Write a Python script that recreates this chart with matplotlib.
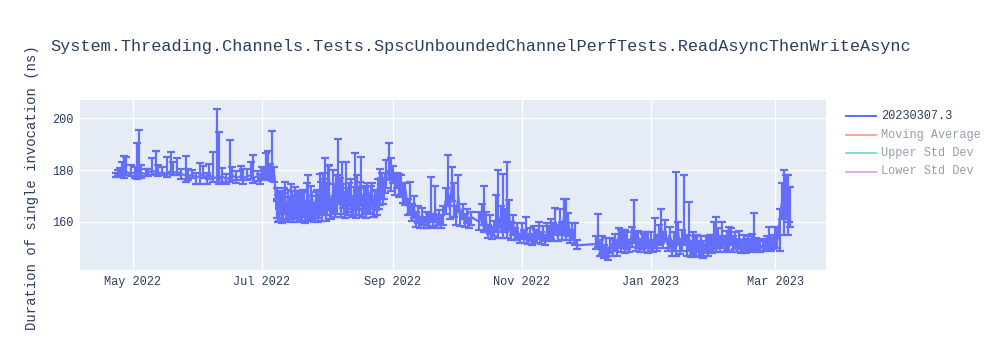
import matplotlib
matplotlib.use("Agg")
import matplotlib.pyplot as plt
from matplotlib.lines import Line2D
import pandas as pd

plt.rcParams['font.family'] = ['Liberation Mono', 'DejaVu Sans']

TITLE = "System.Threading.Channels.Tests.SpscUnboundedChannelPerfTests.ReadAsyncThenWriteAsync"
Y_LABEL = "Duration of single invocation (ns)"
LEGEND_LABELS = ["20230307.3", "Moving Average", "Upper Std Dev", "Lower Std Dev"]
Y_TICKS = [160, 180, 200]
X_TICKS = ["2022-05-01", "2022-07-01", "2022-09-01", "2022-11-01", "2023-01-01", "2023-03-01"]
X_TICK_LABELS = ["May 2022", "Jul 2022", "Sep 2022", "Nov 2022", "Jan 2023", "Mar 2023"]

# ---- Period A: Apr 23 - Jul 7 2022 ----
dates_a = ["2022-04-23", "2022-04-24", "2022-04-25", "2022-04-26", "2022-04-27", "2022-04-28",
           "2022-04-30", "2022-05-02", "2022-05-03", "2022-05-04", "2022-05-05", "2022-05-07",
           "2022-05-08", "2022-05-10", "2022-05-12", "2022-05-13", "2022-05-15", "2022-05-17",
           "2022-05-19", "2022-05-20", "2022-05-22", "2022-05-24", "2022-05-26", "2022-05-27",
           "2022-05-29", "2022-05-31", "2022-06-02", "2022-06-03", "2022-06-05", "2022-06-06",
           "2022-06-08", "2022-06-10", "2022-06-11", "2022-06-12", "2022-06-14", "2022-06-16",
           "2022-06-17", "2022-06-19", "2022-06-21", "2022-06-22", "2022-06-24", "2022-06-26",
           "2022-06-27", "2022-06-29", "2022-06-30", "2022-07-01", "2022-07-02", "2022-07-03",
           "2022-07-04", "2022-07-05", "2022-07-06", "2022-07-07"]
values_a = [178.0, 178.5, 178.2, 179.0, 178.6, 179.2,
            178.8, 179.0, 178.5, 179.5, 178.8, 178.6,
            179.0, 179.6, 179.4, 178.8, 179.2, 178.5,
            179.8, 179.0, 179.3, 178.4, 178.0, 177.6,
            178.2, 177.2, 177.8, 178.5, 177.0, 178.4,
            176.8, 177.4, 176.5, 177.8, 176.6, 177.2,
            178.0, 177.0, 177.6, 176.8, 177.5, 178.2,
            177.0, 177.6, 176.5, 178.0, 178.6, 177.5,
            179.0, 178.2, 177.6, 178.0]
err_up_a = [1.0, 1.5, 2.5, 4.0, 7.0, 6.0,
            3.0, 2.0, 12.0, 16.0, 3.0, 2.0,
            1.5, 5.0, 8.0, 3.0, 2.0, 6.5,
            7.0, 4.0, 5.5, 2.0, 7.5, 3.0,
            2.0, 1.5, 5.0, 3.0, 2.0, 4.0,
            10.0, 26.0, 18.0, 3.0, 2.0, 14.5,
            3.0, 2.5, 4.0, 3.5, 3.0, 5.0,
            9.0, 2.0, 1.8, 3.0, 2.0, 9.0,
            8.5, 4.0, 17.5, 3.0]
err_dn_a = [0.8, 0.8, 1.0, 1.2, 1.5, 1.2,
            1.0, 2.0, 2.0, 2.5, 2.0, 1.0,
            1.2, 1.5, 1.0, 1.2, 1.0, 1.3,
            1.5, 1.0, 1.2, 2.0, 2.5, 1.5,
            1.2, 2.5, 3.0, 1.5, 2.5, 2.0,
            1.5, 2.0, 2.0, 2.5, 2.0, 1.8,
            2.0, 1.8, 1.5, 2.0, 1.5, 1.5,
            2.0, 2.0, 2.0, 1.5, 1.5, 1.5,
            2.0, 1.8, 2.0, 2.5]

# ---- Period B: Jul 8 - Aug 4 2022 (morning runs) ----
dates_b = ["2022-07-08", "2022-07-08 06:00", "2022-07-09", "2022-07-10", "2022-07-11", "2022-07-12",
           "2022-07-13", "2022-07-14", "2022-07-15", "2022-07-16", "2022-07-17", "2022-07-18",
           "2022-07-19", "2022-07-20", "2022-07-21", "2022-07-22", "2022-07-23", "2022-07-24",
           "2022-07-25", "2022-07-26", "2022-07-27", "2022-07-28", "2022-07-29", "2022-07-30",
           "2022-07-31", "2022-08-01", "2022-08-02", "2022-08-03", "2022-08-04"]
values_b = [165.0, 170.0, 162.0, 168.0, 163.5, 170.5,
            162.0, 166.5, 171.0, 161.5, 167.0, 164.0,
            169.5, 162.5, 168.5, 165.0, 170.5, 163.0,
            167.5, 161.8, 169.0, 164.5, 171.5, 166.0,
            172.0, 165.0, 170.5, 163.0, 168.5]
err_up_b = [4.0, 3.0, 3.0, 4.0, 7.5, 5.0,
            4.0, 3.0, 3.5, 2.5, 5.0, 7.5,
            2.5, 4.0, 3.0, 3.0, 7.5, 4.0,
            2.5, 5.0, 3.5, 6.0, 4.0, 13.0,
            12.5, 10.0, 11.5, 6.0, 6.0]
err_dn_b = [3.5, 2.0, 1.5, 5.0, 2.5, 4.0,
            1.8, 5.0, 3.0, 1.5, 5.5, 3.0,
            4.0, 2.0, 6.0, 3.0, 3.5, 2.0,
            4.0, 1.5, 5.5, 3.0, 4.0, 3.5,
            5.0, 2.5, 4.0, 2.0, 3.5]

# ---- Period B2: Jul 8 - Aug 4 2022 (afternoon runs) ----
dates_b2 = ["2022-07-08 12:00", "2022-07-09 12:00", "2022-07-10 12:00", "2022-07-11 12:00",
            "2022-07-12 12:00", "2022-07-13 12:00", "2022-07-14 12:00", "2022-07-15 12:00",
            "2022-07-16 12:00", "2022-07-17 12:00", "2022-07-18 12:00", "2022-07-19 12:00",
            "2022-07-20 12:00", "2022-07-21 12:00", "2022-07-22 12:00", "2022-07-23 12:00",
            "2022-07-24 12:00", "2022-07-25 12:00", "2022-07-26 12:00", "2022-07-27 12:00",
            "2022-07-28 12:00", "2022-07-29 12:00", "2022-07-30 12:00", "2022-07-31 12:00",
            "2022-08-01 12:00", "2022-08-02 12:00", "2022-08-03 12:00", "2022-08-04 12:00"]
values_b2 = [161.5, 169.0, 161.0, 171.0, 163.0, 170.0, 161.5, 164.0,
             170.5, 161.0, 168.0, 162.0, 170.0, 160.8, 169.0, 162.5,
             171.0, 161.5, 168.5, 162.0, 170.5, 163.0, 171.5, 162.5,
             172.5, 164.0, 170.0, 165.0]
err_up_b2 = [9.0, 3.0, 10.0, 2.0, 4.0, 2.5, 5.5, 8.0,
             3.0, 4.0, 4.0, 10.0, 2.5, 4.0, 6.0, 3.0,
             3.0, 6.0, 3.0, 4.0, 8.0, 3.0, 5.0, 6.0,
             9.0, 4.0, 10.0, 5.0]
err_dn_b2 = [1.5, 6.0, 1.2, 8.0, 2.0, 7.0, 1.5, 3.0,
             8.0, 1.0, 6.0, 1.5, 7.5, 1.0, 6.0, 2.0,
             9.0, 1.5, 6.0, 2.0, 7.5, 2.5, 8.0, 2.0,
             8.0, 3.0, 7.0, 3.0]

# ---- Period C: Aug 5 - Sep 29 2022 ----
dates_c = ["2022-08-05", "2022-08-06", "2022-08-07", "2022-08-08", "2022-08-09", "2022-08-10",
           "2022-08-11", "2022-08-12", "2022-08-13", "2022-08-14", "2022-08-15", "2022-08-16",
           "2022-08-17", "2022-08-18", "2022-08-19", "2022-08-20", "2022-08-21", "2022-08-22",
           "2022-08-23", "2022-08-24", "2022-08-25", "2022-08-26", "2022-08-27", "2022-08-28",
           "2022-08-29", "2022-08-30", "2022-08-31", "2022-09-01", "2022-09-02", "2022-09-03",
           "2022-09-04", "2022-09-05", "2022-09-06", "2022-09-07", "2022-09-08", "2022-09-09",
           "2022-09-10", "2022-09-11", "2022-09-12", "2022-09-13", "2022-09-14", "2022-09-15",
           "2022-09-16", "2022-09-17", "2022-09-18", "2022-09-19", "2022-09-20", "2022-09-21",
           "2022-09-22", "2022-09-23", "2022-09-24", "2022-09-25", "2022-09-26", "2022-09-27",
           "2022-09-28", "2022-09-29"]
values_c = [174.0, 178.0, 171.0, 176.0, 168.0, 173.5,
            166.0, 171.0, 164.5, 169.0, 174.0, 165.5,
            170.0, 163.5, 168.0, 172.5, 166.5, 170.5,
            164.0, 169.5, 173.0, 171.0, 175.5, 172.0,
            178.0, 180.0, 176.5, 178.5, 174.0, 177.0,
            172.5, 175.0, 170.0, 172.5, 166.0, 168.0,
            163.0, 165.5, 161.0, 163.5, 160.0, 162.5,
            159.5, 162.0, 160.0, 163.5, 160.5, 164.0,
            159.5, 162.5, 160.0, 163.0, 168.0, 172.0,
            165.0, 175.0]
err_up_c = [4.0, 14.0, 6.0, 7.0, 3.5, 9.5,
            4.0, 5.5, 3.0, 17.5, 4.0, 4.5,
            15.0, 3.5, 5.0, 2.5, 3.5, 4.5,
            5.0, 3.0, 3.5, 9.5, 3.5, 5.0,
            6.0, 10.5, 8.0, 3.0, 5.0, 2.0,
            6.0, 3.0, 5.0, 2.5, 3.0, 7.4,
            4.0, 4.5, 3.0, 2.5, 2.0, 3.0,
            2.5, 2.0, 3.0, 14.0, 2.5, 10.0,
            3.0, 2.0, 2.5, 3.0, 5.0, 13.8,
            5.0, 6.0]
err_dn_c = [3.0, 5.0, 4.0, 5.0, 5.0, 4.5,
            3.5, 6.0, 2.0, 3.0, 6.0, 3.0,
            4.0, 1.5, 4.0, 5.5, 3.0, 4.0,
            2.0, 5.0, 4.0, 4.5, 4.0, 3.0,
            5.0, 4.0, 4.5, 3.5, 3.5, 4.0,
            3.0, 4.5, 2.5, 6.0, 3.5, 5.0,
            2.5, 4.0, 3.0, 4.0, 2.5, 3.5,
            2.0, 4.5, 2.5, 3.5, 2.0, 4.0,
            2.0, 3.5, 2.5, 4.0, 5.0, 6.0,
            4.0, 7.0]

# ---- Period C2: Aug 5 - Aug 28 2022 (afternoon runs) ----
dates_c2 = ["2022-08-05 12:00", "2022-08-06 12:00", "2022-08-07 12:00", "2022-08-08 12:00",
            "2022-08-09 12:00", "2022-08-10 12:00", "2022-08-11 12:00", "2022-08-12 12:00",
            "2022-08-13 12:00", "2022-08-14 12:00", "2022-08-15 12:00", "2022-08-16 12:00",
            "2022-08-17 12:00", "2022-08-18 12:00", "2022-08-19 12:00", "2022-08-20 12:00",
            "2022-08-21 12:00", "2022-08-22 12:00", "2022-08-23 12:00", "2022-08-24 12:00",
            "2022-08-25 12:00", "2022-08-26 12:00", "2022-08-27 12:00", "2022-08-28 12:00"]
values_c2 = [168.0, 173.0, 165.0, 170.5, 163.5, 168.0, 172.0, 164.0,
             170.0, 163.0, 168.5, 172.5, 164.5, 170.0, 163.0, 167.0,
             171.5, 165.0, 169.0, 164.5, 168.5, 174.0, 170.0, 175.0]
err_up_c2 = [6.0, 5.0, 5.0, 4.0, 4.0, 5.0, 3.0, 6.0,
             3.5, 4.0, 5.0, 3.0, 6.0, 4.0, 3.0, 3.0,
             2.5, 4.0, 3.0, 3.0, 4.0, 3.0, 3.0, 4.0]
err_dn_c2 = [5.0, 6.0, 3.0, 5.0, 2.0, 4.0, 6.0, 2.0,
             5.0, 1.5, 4.0, 6.0, 2.5, 5.0, 1.5, 4.0,
             5.5, 3.0, 4.0, 2.0, 3.5, 5.0, 3.0, 4.0]

# ---- Period D: Sep 30 - Nov 27 2022 ----
dates_d = ["2022-09-30", "2022-10-01", "2022-10-02", "2022-10-03", "2022-10-04", "2022-10-05",
           "2022-10-06", "2022-10-07", "2022-10-08", "2022-10-12", "2022-10-13", "2022-10-14",
           "2022-10-15", "2022-10-16", "2022-10-17", "2022-10-18", "2022-10-19", "2022-10-20",
           "2022-10-21", "2022-10-22", "2022-10-23", "2022-10-24", "2022-10-25", "2022-10-26",
           "2022-10-27", "2022-10-28", "2022-10-29", "2022-10-30", "2022-10-31", "2022-11-01",
           "2022-11-02", "2022-11-03", "2022-11-04", "2022-11-05", "2022-11-06", "2022-11-07",
           "2022-11-08", "2022-11-09", "2022-11-10", "2022-11-11", "2022-11-12", "2022-11-13",
           "2022-11-14", "2022-11-15", "2022-11-16", "2022-11-17", "2022-11-18", "2022-11-19",
           "2022-11-20", "2022-11-21", "2022-11-22", "2022-11-23", "2022-11-24", "2022-11-25",
           "2022-11-26", "2022-11-27"]
values_d = [167.0, 162.0, 170.0, 161.0, 165.0, 160.0,
            163.0, 159.0, 162.0, 160.0, 164.0, 158.0,
            161.0, 156.0, 159.0, 155.0, 158.0, 160.0,
            157.0, 162.0, 156.5, 160.0, 158.0, 163.0,
            155.0, 159.0, 154.5, 157.0, 153.5, 156.5,
            154.0, 157.0, 153.0, 155.5, 152.5, 156.0,
            154.0, 157.5, 153.0, 155.0, 152.5, 156.5,
            154.5, 158.0, 155.0, 159.0, 155.5, 160.0,
            156.0, 162.0, 157.0, 160.5, 154.0, 157.0,
            153.0, 151.0]
err_up_d = [8.0, 4.0, 8.0, 3.0, 2.0, 3.0,
            2.0, 2.5, 2.0, 4.0, 3.0, 16.0,
            3.0, 3.0, 3.5, 3.0, 2.5, 10.5,
            23.0, 4.0, 22.0, 5.0, 25.0, 5.5,
            5.0, 3.5, 3.0, 2.5, 2.0, 3.0,
            3.0, 5.0, 2.5, 2.0, 3.0, 2.5,
            3.0, 2.5, 3.0, 3.5, 2.5, 3.0,
            4.0, 3.0, 4.5, 6.5, 3.5, 5.0,
            4.0, 7.0, 12.0, 3.0, 3.0, 2.5,
            6.5, 2.0]
err_dn_d = [5.0, 3.0, 6.0, 2.5, 4.0, 2.0,
            3.5, 1.5, 3.0, 3.0, 5.0, 2.0,
            5.0, 2.0, 3.5, 1.5, 3.5, 4.0,
            3.0, 6.0, 2.5, 4.0, 4.0, 6.0,
            2.0, 4.0, 1.5, 3.5, 1.5, 3.0,
            2.0, 3.5, 1.5, 3.0, 1.2, 3.5,
            2.0, 4.0, 1.5, 2.5, 1.5, 3.5,
            2.0, 4.5, 2.5, 4.0, 3.0, 5.0,
            3.0, 6.5, 4.0, 6.0, 2.0, 4.0,
            2.0, 1.5]

# ---- Period E: Dec 6 2022 - Jan 12 2023 ----
dates_e = ["2022-12-06", "2022-12-07", "2022-12-08", "2022-12-09", "2022-12-10", "2022-12-11",
           "2022-12-12", "2022-12-13", "2022-12-14", "2022-12-15", "2022-12-16", "2022-12-17",
           "2022-12-18", "2022-12-19", "2022-12-20", "2022-12-21", "2022-12-22", "2022-12-23",
           "2022-12-24", "2022-12-25", "2022-12-26", "2022-12-27", "2022-12-28", "2022-12-29",
           "2022-12-30", "2022-12-31", "2023-01-01", "2023-01-02", "2023-01-03", "2023-01-04",
           "2023-01-05", "2023-01-06", "2023-01-07", "2023-01-08", "2023-01-09", "2023-01-10",
           "2023-01-11", "2023-01-12"]
values_e = [151.5, 154.0, 149.0, 152.0, 148.0, 151.0,
            147.5, 152.0, 149.5, 153.0, 150.0, 155.0,
            151.5, 154.0, 150.5, 153.5, 151.0, 155.0,
            157.0, 152.0, 154.5, 150.5, 153.0, 151.0,
            154.0, 150.0, 153.0, 151.0, 155.0, 152.0,
            156.0, 158.0, 153.0, 156.5, 151.5, 155.0,
            150.0, 153.0]
err_up_e = [3.0, 9.0, 4.0, 2.5, 3.0, 3.0,
            2.5, 2.0, 3.5, 2.5, 3.0, 2.5,
            5.5, 3.0, 6.5, 2.5, 2.0, 3.0,
            11.5, 4.0, 2.0, 3.0, 3.0, 4.5,
            2.0, 6.0, 3.0, 2.0, 6.5, 3.0,
            3.0, 7.0, 3.0, 4.3, 2.0, 3.0,
            2.5, 3.0]
err_dn_e = [2.0, 3.5, 2.0, 4.5, 2.0, 4.5,
            2.0, 4.0, 2.5, 4.0, 3.0, 5.0,
            3.0, 4.0, 2.5, 4.0, 2.5, 4.5,
            5.0, 3.0, 4.5, 2.0, 3.5, 2.5,
            4.0, 2.0, 4.0, 2.5, 5.0, 3.0,
            5.0, 6.0, 3.0, 4.0, 2.5, 5.0,
            3.0, 4.0]

# ---- Period F: Jan 13 - Mar 8 2023 ----
dates_f = ["2023-01-13", "2023-01-14", "2023-01-15", "2023-01-16", "2023-01-17", "2023-01-18",
           "2023-01-19", "2023-01-20", "2023-01-21", "2023-01-22", "2023-01-23", "2023-01-24",
           "2023-01-25", "2023-01-26", "2023-01-27", "2023-01-28", "2023-01-29", "2023-01-30",
           "2023-01-31", "2023-02-01", "2023-02-02", "2023-02-03", "2023-02-04", "2023-02-05",
           "2023-02-06", "2023-02-07", "2023-02-08", "2023-02-09", "2023-02-10", "2023-02-11",
           "2023-02-12", "2023-02-13", "2023-02-14", "2023-02-15", "2023-02-16", "2023-02-17",
           "2023-02-18", "2023-02-19", "2023-02-20", "2023-02-21", "2023-02-22", "2023-02-23",
           "2023-02-24", "2023-02-25", "2023-02-26", "2023-02-27", "2023-02-28", "2023-03-01",
           "2023-03-02", "2023-03-03", "2023-03-04", "2023-03-05", "2023-03-06", "2023-03-07",
           "2023-03-07 12:00", "2023-03-08"]
values_f = [152.0, 156.0, 150.5, 154.0, 157.0, 151.0,
            155.0, 149.5, 153.0, 150.0, 152.5, 149.0,
            151.5, 148.5, 152.0, 149.5, 153.0, 151.0,
            154.0, 152.0, 155.0, 151.0, 154.0, 150.5,
            153.5, 152.0, 155.0, 151.0, 153.5, 150.5,
            153.0, 150.0, 152.5, 150.0, 152.0, 150.5,
            153.0, 152.0, 150.5, 151.5, 150.0, 151.0,
            150.5, 152.0, 153.0, 151.0, 152.5, 155.0,
            153.0, 160.0, 167.0, 163.0, 170.0, 165.0,
            172.0, 160.0]
err_up_f = [27.2, 4.0, 3.0, 3.0, 21.0, 4.0,
            12.7, 3.0, 3.0, 4.5, 2.5, 3.5,
            3.0, 4.0, 2.5, 5.0, 2.0, 4.0,
            6.0, 10.0, 2.5, 3.5, 6.0, 4.0,
            3.0, 6.0, 2.5, 3.5, 2.5, 3.0,
            3.5, 3.0, 2.5, 3.5, 2.5, 3.0,
            2.5, 11.4, 3.5, 2.0, 2.5, 2.0,
            3.0, 2.5, 5.0, 3.0, 2.5, 3.0,
            5.0, 5.0, 8.0, 17.0, 8.0, 13.0,
            1.5, 13.5]
err_dn_f = [5.0, 5.0, 3.0, 5.0, 6.0, 4.0,
            6.0, 3.0, 5.5, 3.0, 4.0, 2.5,
            4.5, 2.5, 4.0, 2.5, 4.0, 3.0,
            4.5, 3.5, 4.5, 2.5, 4.0, 2.0,
            4.5, 3.0, 4.0, 2.5, 4.0, 2.0,
            3.5, 2.0, 3.5, 2.0, 3.0, 2.0,
            3.5, 3.0, 2.0, 2.5, 1.5, 2.0,
            1.5, 2.5, 3.0, 2.0, 3.0, 5.0,
            3.0, 11.0, 6.0, 8.0, 9.0, 10.0,
            12.0, 2.0]

all_dates = dates_a + dates_b + dates_b2 + dates_c + dates_c2 + dates_d + dates_e + dates_f
df = pd.DataFrame({
    "date": pd.to_datetime(all_dates, format="mixed"),
    "value": values_a + values_b + values_b2 + values_c + values_c2 + values_d + values_e + values_f,
    "up": err_up_a + err_up_b + err_up_b2 + err_up_c + err_up_c2 + err_up_d + err_up_e + err_up_f,
    "dn": err_dn_a + err_dn_b + err_dn_b2 + err_dn_c + err_dn_c2 + err_dn_d + err_dn_e + err_dn_f,
}).sort_values("date", kind="stable")

TEXT = '#2a3f5f'
BLUE = '#636EFA'
W, H = 1000, 350
fig = plt.figure(figsize=(W / 100, H / 100), dpi=100)
ax = fig.add_axes([80 / W, 1 - 270 / H, (826 - 80) / W, 170 / H])
ax.set_facecolor('#E5ECF6')
for s in ax.spines.values():
    s.set_visible(False)

lw = 2.2 * 72 / 100
ax.errorbar(df["date"], df["value"], yerr=[df["dn"], df["up"]], color=BLUE, lw=lw,
            elinewidth=lw, capsize=3.2, capthick=lw, zorder=3)

ax.set_xlim(pd.Timestamp("2022-04-06"), pd.Timestamp("2023-03-25"))
ax.set_ylim(141.5, 207.0)
ax.set_yticks(Y_TICKS)
ax.set_xticks(pd.to_datetime(X_TICKS))
ax.set_xticklabels(X_TICK_LABELS)
ax.grid(True, color='white', lw=1.0, zorder=0)
ax.set_axisbelow(True)
ax.tick_params(axis='both', length=0, labelsize=8.6, colors=TEXT)
ax.tick_params(axis='y', pad=4.5)
ax.tick_params(axis='x', pad=4)

fig.text(50 / W, 1 - 46 / H, TITLE, fontsize=12.2, color=TEXT, va='center', ha='left')
fig.text(32 / W, 1 - 188 / H, Y_LABEL, fontsize=10, color=TEXT, rotation=90,
         va='center', ha='center')

# legend (first trace visible, others legend-only and faded)
leg_colors = [BLUE, '#EF553B', '#00CC96', '#AB63FA']
leg_alpha = [1.0, 0.5, 0.5, 0.5]
rows_y = [116, 134.5, 153, 171.5]
for lab, c, a, yy in zip(LEGEND_LABELS, leg_colors, leg_alpha, rows_y):
    fy = 1 - yy / H
    fig.add_artist(Line2D([846 / W, 876 / W], [fy, fy], color=c, alpha=a, lw=2 * 72 / 100,
                          transform=fig.transFigure))
    fig.text(881 / W, fy, lab, fontsize=8.6, color=TEXT, alpha=a, va='center', ha='left')

fig.savefig('out.png', dpi=100, facecolor='white')
